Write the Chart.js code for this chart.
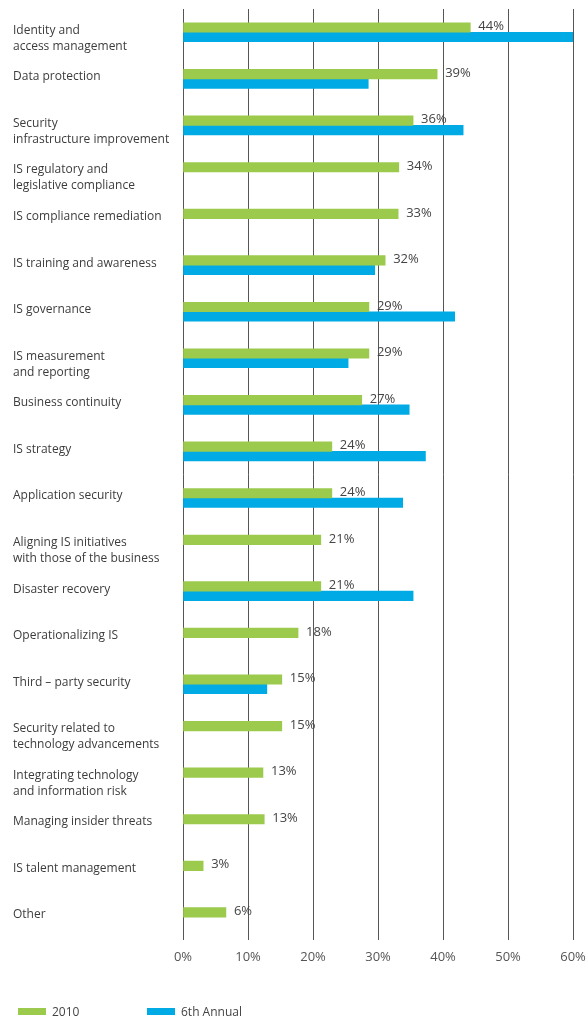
<!DOCTYPE html>
<html>
<head>
<meta charset="utf-8">
<script src="https://cdn.jsdelivr.net/npm/chart.js@4/dist/chart.umd.min.js"></script>
<style>
  html, body { margin: 0; padding: 0; background: #fff; }
  #wrap { position: relative; width: 588px; height: 1020px; }
  #legend { position: absolute; left: 0; top: 1004px; width: 588px; height: 16px;
            font-family: "Open Sans", sans-serif; font-size: 12px; color: #444; }
  .li { position: absolute; top: 0; height: 16px; line-height: 16px; white-space: nowrap; }
  .sw { display: inline-block; width: 28px; height: 7px; vertical-align: middle; margin-right: 6px; position: relative; top: -1px; }
</style>
</head>
<body>
<div id="wrap">
  <canvas id="c" width="588" height="1020"></canvas>
  <div id="legend"></div>
</div>
<script>
const categories = [
  "Identity and\naccess management",
  "Data protection",
  "Security\ninfrastructure improvement",
  "IS regulatory and\nlegislative compliance",
  "IS compliance remediation",
  "IS training and awareness",
  "IS governance",
  "IS measurement\nand reporting",
  "Business continuity",
  "IS strategy",
  "Application security",
  "Aligning IS initiatives\nwith those of the business",
  "Disaster recovery",
  "Operationalizing IS",
  "Third \u2013 party security",
  "Security related to\ntechnology advancements",
  "Integrating technology\nand information risk",
  "Managing insider threats",
  "IS talent management",
  "Other"
];
const values2010 = [44.2, 39.1, 35.4, 33.2, 33.1, 31.1, 28.6, 28.6, 27.5, 22.9, 22.9, 21.2, 21.2, 17.7, 15.2, 15.2, 12.3, 12.5, 3.1, 6.6];
const labels2010 = ["44%", "39%", "36%", "34%", "33%", "32%", "29%", "29%", "27%", "24%", "24%", "21%", "21%", "18%", "15%", "15%", "13%", "13%", "3%", "6%"];
const values6th = [60.0, 28.5, 43.1, null, null, 29.5, 41.8, 25.4, 34.8, 37.3, 33.8, null, 35.4, null, 12.9, null, null, null, null, null];
const seriesNames = ["2010", "6th Annual"];
const seriesColors = ["#9BCA4C", "#00AAE4"];
const xTicks = [0, 10, 20, 30, 40, 50, 60];

const valueLabelPlugin = {
  id: 'valueLabels',
  afterDatasetsDraw(chart) {
    const ctx = chart.ctx;
    const meta = chart.getDatasetMeta(0);
    ctx.save();
    ctx.font = '13px "Open Sans", sans-serif';
    ctx.fillStyle = '#444';
    ctx.textAlign = 'left';
    ctx.textBaseline = 'middle';
    meta.data.forEach((el, i) => {
      ctx.fillText(labels2010[i], el.x + 8, el.y - 1);
    });
    ctx.restore();
  }
};

const chart = new Chart(document.getElementById('c'), {
  type: 'bar',
  data: {
    labels: categories,
    datasets: [
      { label: seriesNames[0], data: values2010, backgroundColor: seriesColors[0], barThickness: 9.5 },
      { label: seriesNames[1], data: values6th, backgroundColor: seriesColors[1], barThickness: 9.5 }
    ]
  },
  options: {
    indexAxis: 'y',
    responsive: false,
    animation: false,
    devicePixelRatio: 1,
    layout: { padding: { left: 13, right: 15, top: 9, bottom: 46 } },
    plugins: { legend: { display: false }, tooltip: { enabled: false } },
    scales: {
      x: {
        position: 'bottom',
        min: 0, max: 60,
        z: 1,
        afterBuildTicks(scale) { scale.ticks = xTicks.map(v => ({ value: v })); },
        afterFit(scale) { scale.paddingLeft = 0; scale.paddingRight = 0; },
        ticks: {
          callback: v => v + '%',
          font: { family: '"Open Sans", sans-serif', size: 13 },
          color: '#555',
          padding: 9
        },
        grid: { color: 'rgba(30,30,30,0.75)', lineWidth: 1, drawTicks: false, tickLength: 0 },
        border: { display: false }
      },
      y: {
        afterFit(scale) { scale.width = 170; scale.paddingTop = 0; scale.paddingBottom = 0; },
        ticks: {
          autoSkip: false,
          crossAlign: 'far',
          labelOffset: 6,
          callback: function (v, i) {
            const parts = categories[i].split('\n');
            while (parts.length < 2) parts.push('');
            return parts;
          },
          font: { family: '"Open Sans", sans-serif', size: 12, lineHeight: 1.34 },
          color: '#3c3c3c',
          padding: 0
        },
        grid: { display: false },
        border: { display: false }
      }
    }
  },
  plugins: [valueLabelPlugin]
});

const legendEl = document.getElementById('legend');
const legendLeft = [18, 147];
chart.data.datasets.forEach((ds, i) => {
  const item = document.createElement('div');
  item.className = 'li';
  item.style.left = legendLeft[i] + 'px';
  const sw = document.createElement('span');
  sw.className = 'sw';
  sw.style.background = ds.backgroundColor;
  item.appendChild(sw);
  item.appendChild(document.createTextNode(ds.label));
  legendEl.appendChild(item);
});
</script>
</body>
</html>
